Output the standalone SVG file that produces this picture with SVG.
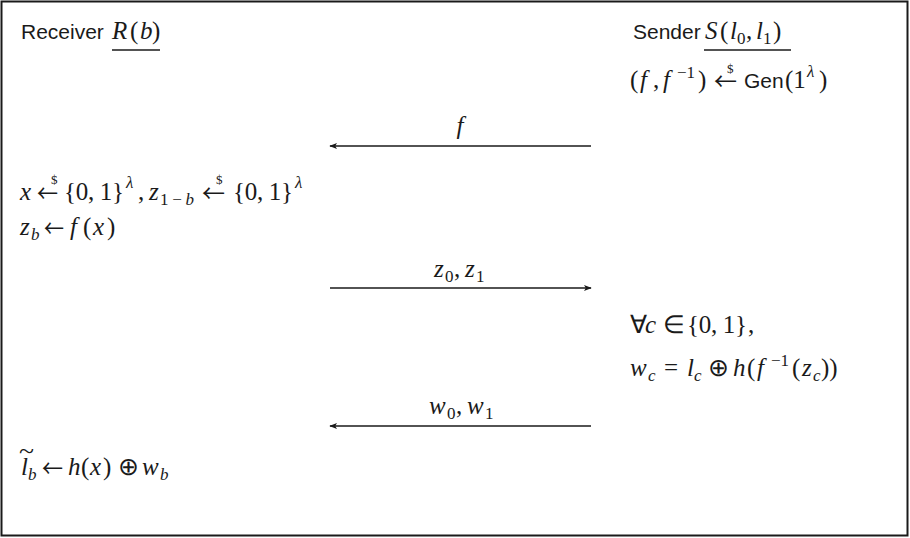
<svg xmlns="http://www.w3.org/2000/svg" width="910" height="538" viewBox="0 0 910 538">
<defs>
<style>
.s{font-family:"Liberation Sans",Arial,sans-serif;font-size:21px;fill:#1a1a1a}
.m{font-family:"Liberation Serif","Times New Roman",serif;font-size:25px;fill:#1a1a1a}
.i{font-style:italic}
.sb{font-size:17px}
.ar{font-family:"Noto Sans CJK JP","DejaVu Sans",sans-serif;font-size:24px;fill:#1a1a1a}
.d{font-family:"Liberation Serif",serif;font-size:13px;fill:#1a1a1a}
.ln{stroke:#1a1a1a;stroke-width:1.3;fill:none}
</style>
<marker id="ah" viewBox="0 0 10 10" refX="9" refY="5" markerWidth="8" markerHeight="8" orient="auto-start-reverse" markerUnits="userSpaceOnUse">
<path d="M0,1 L10,5 L0,9 L2.5,5 Z" fill="#1a1a1a"/>
</marker>
</defs>
<rect x="1.5" y="1.5" width="906" height="534" fill="#fff" stroke="#1a1a1a" stroke-width="2"/>

<g id="receiver">
<text class="s" x="21" y="39">Receiver</text>
<text class="m"><tspan class="i" x="112" y="39">R</tspan><tspan x="130">(</tspan><tspan class="i" x="140">b</tspan><tspan x="152">)</tspan></text>
<line class="ln" x1="112" y1="50" x2="160" y2="50"/>

<text class="m" y="200"><tspan class="i" x="20">x</tspan><tspan x="64" textLength="60" lengthAdjust="spacing">{0, 1}</tspan><tspan x="138">,</tspan><tspan class="i" x="149">z</tspan></text>
<text class="ar" x="37" y="202" textLength="21" lengthAdjust="spacingAndGlyphs">←</text>
<text class="m sb" x="160" y="205" textLength="34" lengthAdjust="spacing">1−<tspan class="i">b</tspan></text>
<text class="ar" x="202" y="202" textLength="23" lengthAdjust="spacingAndGlyphs">←</text>
<text class="m" x="233" y="200" textLength="60" lengthAdjust="spacing">{0, 1}</text>
<text class="m sb i" x="126" y="188">λ</text>
<text class="m sb i" x="295" y="188">λ</text>
<text class="d" x="51" y="184">$</text>
<text class="d" x="216" y="184">$</text>

<text class="m" y="235"><tspan class="i" x="20">z</tspan><tspan class="i" x="70">f</tspan><tspan x="83">(</tspan><tspan class="i" x="93">x</tspan><tspan x="107">)</tspan></text>
<text class="ar" x="44" y="237" textLength="20" lengthAdjust="spacingAndGlyphs">←</text>
<text class="m sb i" x="31" y="240">b</text>

<text class="m" y="475"><tspan class="i" x="21">l</tspan><tspan class="i" x="68">h</tspan><tspan x="81">(</tspan><tspan class="i" x="90">x</tspan><tspan x="103">)</tspan><tspan x="118">⊕</tspan><tspan class="i" x="142">w</tspan></text>
<text class="ar" x="42" y="477" textLength="21" lengthAdjust="spacingAndGlyphs">←</text>
<text class="m" x="19" y="459" font-size="18" textLength="15" lengthAdjust="spacingAndGlyphs">~</text>
<text class="m sb i" x="28" y="480">b</text>
<text class="m sb i" x="160" y="480">b</text>
</g>

<g id="sender">
<text class="s" x="633" y="39">Sender</text>
<text class="m" y="39"><tspan class="i" x="705">S</tspan><tspan x="720">(</tspan><tspan class="i" x="730">l</tspan><tspan x="746">,</tspan><tspan class="i" x="756">l</tspan><tspan x="773">)</tspan></text>
<text class="m sb" y="44"><tspan x="737">0</tspan><tspan x="763">1</tspan></text>
<line class="ln" x1="704" y1="50" x2="791" y2="50"/>

<text class="m" y="88"><tspan x="630">(</tspan><tspan class="i" x="640">f</tspan><tspan x="653">,</tspan><tspan class="i" x="663">f</tspan><tspan x="698">)</tspan><tspan class="s" x="744">Gen</tspan><tspan x="785">(1</tspan><tspan x="819">)</tspan></text>
<text class="ar" x="714" y="90" textLength="23" lengthAdjust="spacingAndGlyphs">←</text>
<text class="m sb" x="677" y="78">−1</text>
<text class="m sb i" x="807" y="77">λ</text>
<text class="d" x="727" y="73">$</text>

<text class="m" y="333"><tspan x="630">∀</tspan><tspan class="i" x="645">c</tspan><tspan x="663">∈</tspan><tspan x="687" textLength="60" lengthAdjust="spacing">{0, 1}</tspan><tspan x="748">,</tspan></text>

<text class="m" y="376"><tspan class="i" x="630">w</tspan><tspan x="664">=</tspan><tspan class="i" x="687">l</tspan><tspan x="708">⊕</tspan><tspan class="i" x="733">h</tspan><tspan x="747">(</tspan><tspan class="i" x="757">f</tspan><tspan x="792">(</tspan><tspan class="i" x="802">z</tspan><tspan x="821">))</tspan></text>
<text class="m sb i" y="381"><tspan x="648">c</tspan><tspan x="694">c</tspan><tspan x="813">c</tspan></text>
<text class="m sb" x="771" y="366">−1</text>
</g>

<g id="connectors">
<line class="ln" x1="591" y1="146" x2="330" y2="146" marker-end="url(#ah)"/>
<text class="m i" x="460" y="134" text-anchor="middle">f</text>
<line class="ln" x1="330" y1="288" x2="591" y2="288" marker-end="url(#ah)"/>
<text class="m" y="277"><tspan class="i" x="434">z</tspan><tspan class="sb" x="445" dy="5">0</tspan><tspan x="454" dy="-5">,</tspan><tspan class="i" x="465">z</tspan><tspan class="sb" x="476" dy="5">1</tspan></text>
<line class="ln" x1="591" y1="426" x2="330" y2="426" marker-end="url(#ah)"/>
<text class="m" y="414"><tspan class="i" x="429">w</tspan><tspan class="sb" x="447" dy="5">0</tspan><tspan x="456" dy="-5">,</tspan><tspan class="i" x="467">w</tspan><tspan class="sb" x="485" dy="5">1</tspan></text>
</g>
</svg>
